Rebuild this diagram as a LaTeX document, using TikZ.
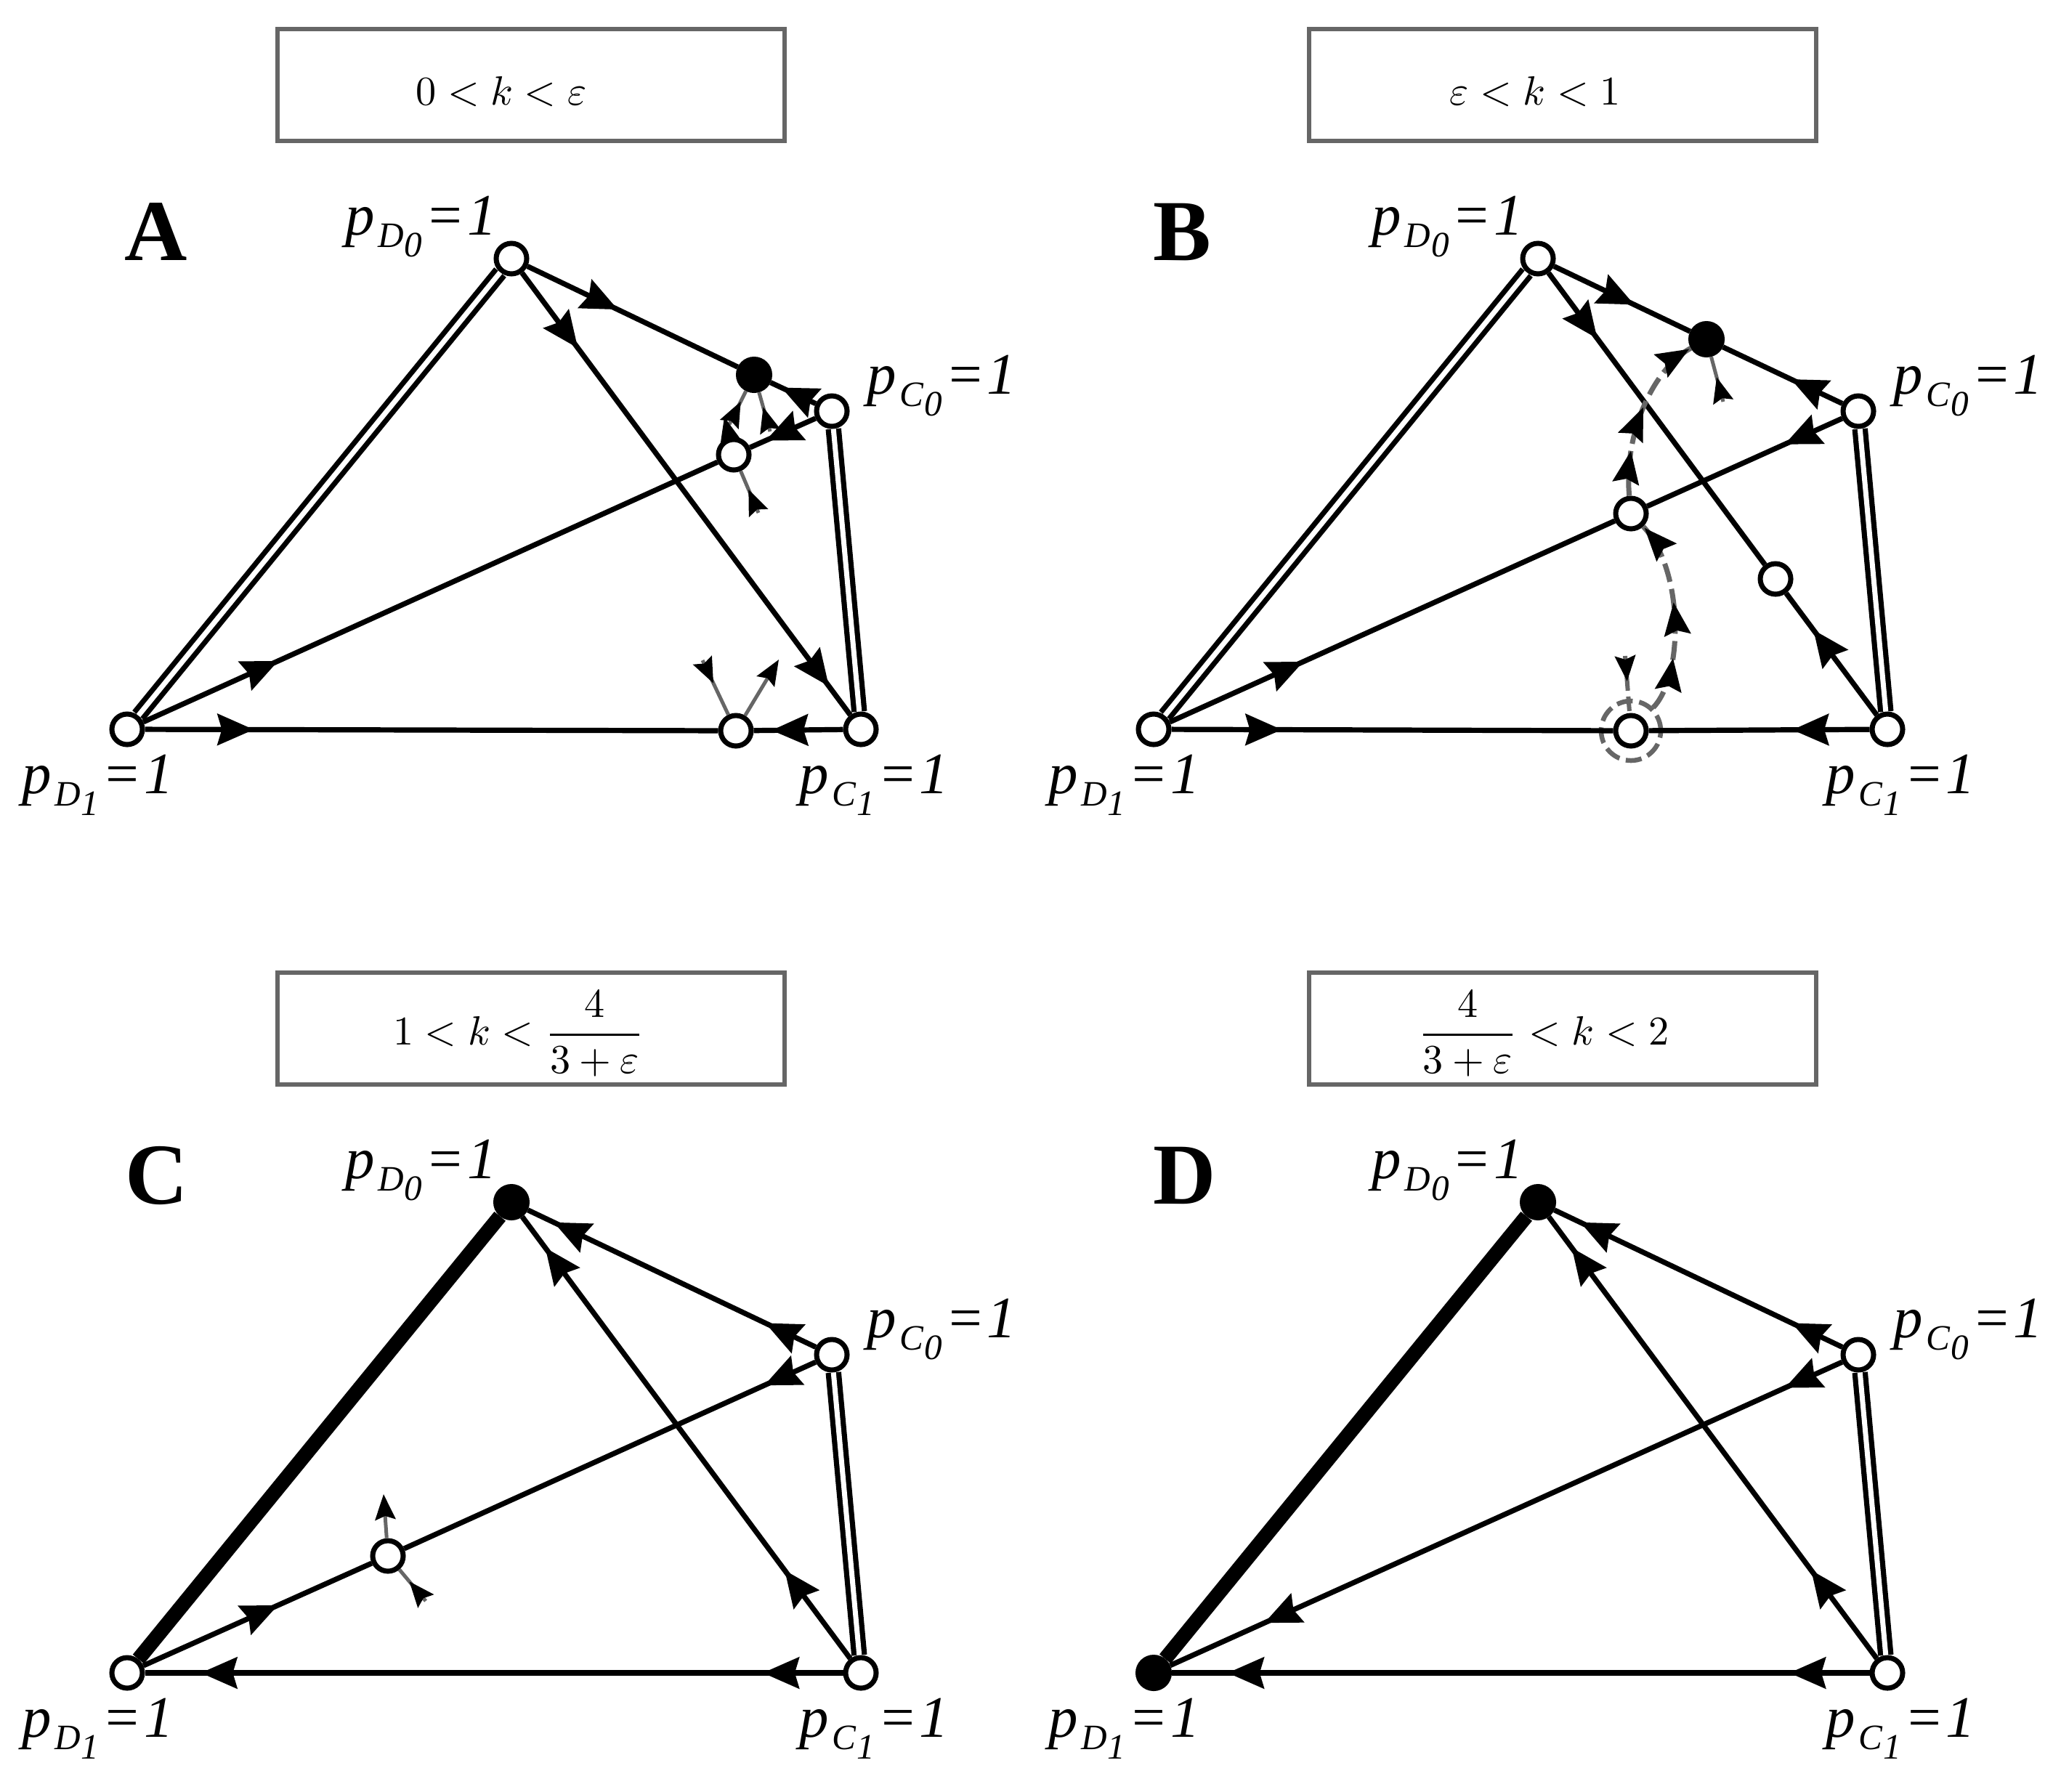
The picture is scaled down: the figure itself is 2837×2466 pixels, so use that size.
\documentclass[tikz,border=0pt]{standalone}
\usepackage{graphicx}
\usepackage{amsmath}
\usepackage{fontspec}
\newfontfamily\tms{Liberation Serif}[ItalicFont={Liberation Serif Italic},BoldFont={Liberation Serif Bold}]
\usetikzlibrary{arrows.meta,decorations.markings}
\definecolor{gr}{HTML}{666666}
\newcommand\plab[2]{{\tms\itshape\fontsize{23}{23}\selectfont p\kern1.2pt\raisebox{-5pt}{\fontsize{14}{14}\selectfont #1\kern0.3pt\raisebox{-3.6pt}{\fontsize{14}{14}\selectfont #2}}\kern1.2pt=\kern0.8pt 1}}
\newcommand\bigmath[1]{\scalebox{1.6}{$#1$}}
\tikzset{
  open/.style={circle, draw=black, fill=white, line width=0.07cm, minimum size=0.42cm, inner sep=0pt},
  full/.style={circle, draw=black, fill=black, line width=0.07cm, minimum size=0.43cm, inner sep=0pt},
  ring/.style={circle, draw=gr, line width=0.065cm, dash pattern=on 0.22cm off 0.09cm, minimum size=0.82cm, inner sep=0pt},
  edge/.style={line width=0.072cm},
  dbl/.style={line width=0.072cm, double=white, double distance=0.07cm},
  fat/.style={line width=0.2cm},
  gl/.style={draw=gr, line width=0.05cm},
  dgl/.style={draw=gr, line width=0.06cm, dash pattern=on 0.2cm off 0.08cm},
  dline/.style={draw=gr, line width=0.07cm, dash pattern=on 0.26cm off 0.1cm},
  boxst/.style={draw=gr, line width=0.055cm},
  m/.style={postaction={decorate,decoration={markings,mark=at position #1 with {\arrow{Stealth[length=0.5cm,width=0.43cm,inset=0.06cm,color=black]}}}}},
  dm/.style={postaction={decorate,decoration={markings,mark=at position #1 with {\arrow{Stealth[length=0.45cm,width=0.36cm,inset=0.06cm,color=black]}}}}},
  gm/.style={postaction={decorate,decoration={markings,mark=at position 0.35cm with {\arrow{Stealth[length=0.35cm,width=0.28cm,inset=0.05cm,color=black]}}}}},
  gout/.style={-{Stealth[length=0.35cm,width=0.28cm,inset=0.05cm,color=black]}},
  lbl/.style={anchor=base west, inner sep=0pt},
  letter/.style={anchor=base west, inner sep=0pt, font=\tms\bfseries\fontsize{34}{34}\selectfont},
  boxtext/.style={anchor=center, inner sep=0pt}
}
\begin{document}
\begin{tikzpicture}[x=0.01cm,y=-0.01cm]
\useasboundingbox (0,0) rectangle (2837,2466);

% ---------- boxes ----------
\draw[boxst] (382,40) rectangle (1080,194);
\node[boxtext] (tA) at (690,126) {\bigmath{0<k<\varepsilon}};
\draw[boxst] (1802,40) rectangle (2500,194);
\node[boxtext] (tB) at (2113,126) {\bigmath{\varepsilon<k<1}};
\draw[boxst] (382,1339) rectangle (1080,1493);
\node[boxtext] (tC) at (714,1423) {\bigmath{1<k<\dfrac{4}{3+\varepsilon}}};
\draw[boxst] (1802,1339) rectangle (2500,1493);
\node[boxtext] (tD) at (2125,1423) {\bigmath{\dfrac{4}{3+\varepsilon}<k<2}};

% ---------- panel A ----------
\begin{scope}
\node[letter] (aL) at (171,358) {A};
\node[open] (aD0) at (704,356) {};
\node[open] (aD1) at (175,1004) {};
\node[open] (aC1) at (1185,1004) {};
\node[open] (aC0) at (1145,566) {};
\node[full] (aQ) at (1038,516) {};
\node[open] (aP) at (1010,626) {};
\node[open] (aR) at (1013,1006) {};
\draw[dbl] (aD0) -- (aD1);
\draw[dbl] (aC0) -- (aC1);
\draw[edge,m=0.43] (aD0) -- (aQ);
\draw[edge,m=0.76] (aC0) -- (aQ);
\draw[edge,m=0.76] (aC0) -- (aP);
\draw[edge,m=0.235] (aD1) -- (aP);
\draw[edge,m=0.17,m=0.935] (aD0) -- (aC1);
\draw[edge,m=0.19] (aD1) -- (aR);
\draw[edge,m=0.8] (aC1) -- (aR);
\coordinate (aeQ1) at (1004,584);
\coordinate (aeQ2) at (1060,594);
\coordinate (aeP1) at (997,574);
\coordinate (aeP2) at (1044,706);
\coordinate (aeR1) at (967,909);
\coordinate (aeR2) at (1072,908);
\draw[gl,gm] (aeQ1) -- (aQ);
\draw[gl,gm] (aeQ2) -- (aQ);
\draw[gl,gout] (aP) -- (aeP1);
\draw[gl,gm] (aeP2) -- (aP);
\draw[gl,gm] (aeR1) -- (aR);
\draw[gl,gout] (aR) -- (aeR2);
\node[lbl] (aLD0) at (475,323) {\plab{D}{0}};
\node[lbl] (aLD1) at (30,1092) {\plab{D}{1}};
\node[lbl] (aLC0) at (1193,542) {\plab{C}{0}};
\node[lbl] (aLC1) at (1100,1092) {\plab{C}{1}};
\end{scope}

% ---------- panel B ----------
\begin{scope}[shift={(1413,0)}]
\node[letter] (bL) at (174,358) {B};
\node[open] (bD0) at (704,356) {};
\node[open] (bD1) at (175,1004) {};
\node[open] (bC1) at (1185,1004) {};
\node[open] (bC0) at (1145,566) {};
\node[full] (bQ) at (936,467) {};
\node[open] (bP) at (832,707) {};
\node[open] (bS) at (1031,797) {};
\node[ring] (bRr) at (832,1006) {};
\node[open] (bR) at (832,1006) {};
\draw[dbl] (bD0) -- (bD1);
\draw[dbl] (bC0) -- (bC1);
\draw[edge,m=0.59] (bD0) -- (bQ);
\draw[edge,m=0.43] (bC0) -- (bQ);
\draw[edge,m=0.295] (bC0) -- (bP);
\draw[edge,m=0.3] (bD1) -- (bP);
\draw[edge,m=0.225] (bD0) -- (bS);
\draw[edge,m=0.7] (bC1) -- (bS);
\draw[edge,m=0.25] (bD1) -- (bR);
\draw[edge,m=0.35] (bC1) -- (bR);
\draw[dline,dm=0.28,dm=0.57,dm=0.99] (bRr) .. controls (905,930) and (905,784) .. (bP);
\draw[dline,dm=0.27,dm=0.54,dm=0.99] (bP) .. controls (822,600) and (860,510) .. (bQ);
\coordinate (beQ) at (959,553);
\coordinate (beR) at (824,903);
\draw[gl,gm] (beQ) -- (bQ);
\draw[dgl,gm] (beR) -- (bR);
\node[lbl] (bLD0) at (475,323) {\plab{D}{0}};
\node[lbl] (bLD1) at (30,1092) {\plab{D}{1}};
\node[lbl] (bLC0) at (1193,542) {\plab{C}{0}};
\node[lbl] (bLC1) at (1100,1092) {\plab{C}{1}};
\end{scope}

% ---------- panel C ----------
\begin{scope}[shift={(0,1299)}]
\node[letter] (cL) at (172,358) {C};
\node[full] (cD0) at (704,356) {};
\node[open] (cD1) at (175,1004) {};
\node[open] (cC1) at (1185,1004) {};
\node[open] (cC0) at (1145,566) {};
\node[open] (cS) at (534,843) {};
\draw[fat] (cD1) -- (cD0);
\draw[dbl] (cC0) -- (cC1);
\draw[edge,m=0.175,m=0.91] (cC0) -- (cD0);
\draw[edge,m=0.2,m=0.93] (cC1) -- (cD0);
\draw[edge,m=0.125] (cC0) -- (cS);
\draw[edge,m=0.59] (cD1) -- (cS);
\draw[edge,m=0.115,m=0.92] (cC1) -- (cD1);
\coordinate (ceS1) at (528,758);
\coordinate (ceS2) at (586,905);
\draw[gl,gout] (cS) -- (ceS1);
\draw[gl,gm] (ceS2) -- (cS);
\node[lbl] (cLD0) at (475,323) {\plab{D}{0}};
\node[lbl] (cLD1) at (30,1092) {\plab{D}{1}};
\node[lbl] (cLC0) at (1193,542) {\plab{C}{0}};
\node[lbl] (cLC1) at (1100,1092) {\plab{C}{1}};
\end{scope}

% ---------- panel D ----------
\begin{scope}[shift={(1413,1299)}]
\node[letter] (dL) at (174,358) {D};
\node[full] (dD0) at (704,356) {};
\node[full] (dD1) at (175,1004) {};
\node[open] (dC1) at (1185,1004) {};
\node[open] (dC0) at (1145,566) {};
\draw[fat] (dD1) -- (dD0);
\draw[dbl] (dC0) -- (dC1);
\draw[edge,m=0.175,m=0.91] (dC0) -- (dD0);
\draw[edge,m=0.2,m=0.93] (dC1) -- (dD0);
\draw[edge,m=0.085,m=0.86] (dC0) -- (dD1);
\draw[edge,m=0.115,m=0.92] (dC1) -- (dD1);
\node[lbl] (dLD0) at (475,323) {\plab{D}{0}};
\node[lbl] (dLD1) at (30,1092) {\plab{D}{1}};
\node[lbl] (dLC0) at (1193,542) {\plab{C}{0}};
\node[lbl] (dLC1) at (1100,1092) {\plab{C}{1}};
\end{scope}
\end{tikzpicture}
\end{document}
